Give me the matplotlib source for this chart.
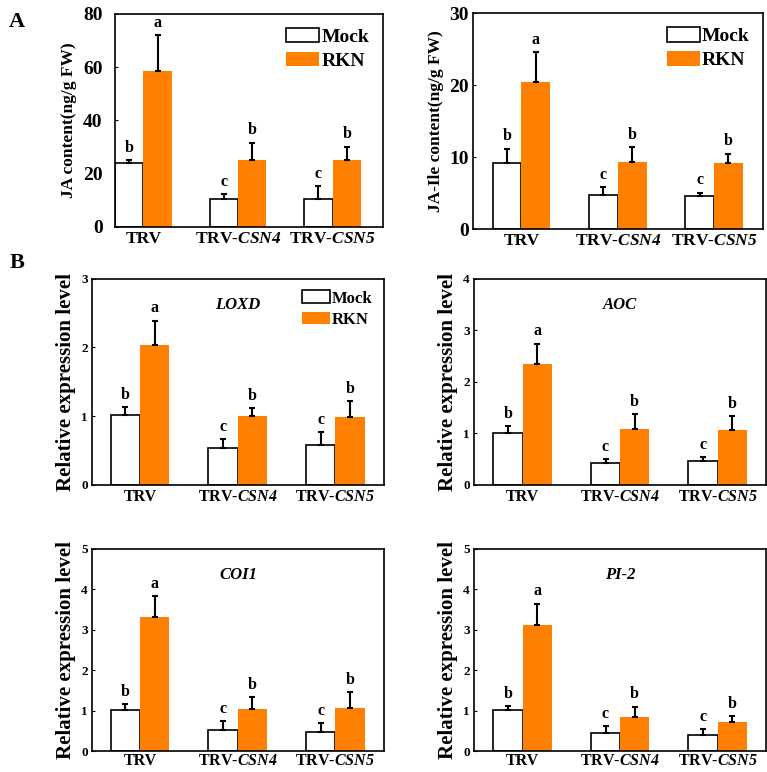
import numpy as np
import matplotlib
matplotlib.use("Agg")
import matplotlib.pyplot as plt

plt.rcParams['font.family'] = 'Liberation Serif'
plt.rcParams['font.weight'] = 'bold'
plt.rcParams['mathtext.fontset'] = 'custom'
plt.rcParams['mathtext.rm'] = 'Liberation Serif:bold'
plt.rcParams['mathtext.bf'] = 'Liberation Serif:bold'
plt.rcParams['mathtext.it'] = 'Liberation Serif:italic:bold'
plt.rcParams['mathtext.bfit'] = 'Liberation Serif:italic:bold'

groups = ["TRV", r"TRV-$\mathbfit{CSN4}$", r"TRV-$\mathbfit{CSN5}$"]
series = ["Mock", "RKN"]

# panel A
ja_mock = [23.9, 10.5, 10.5]
ja_mock_err = [1.3, 1.8, 4.9]
ja_rkn = [58.6, 25.2, 25.0]
ja_rkn_err = [13.5, 6.5, 5.2]
ja_letters = [["b", "c", "c"], ["a", "b", "b"]]

jaile_mock = [9.2, 4.8, 4.6]
jaile_mock_err = [2.0, 1.0, 0.5]
jaile_rkn = [20.4, 9.4, 9.2]
jaile_rkn_err = [4.2, 2.0, 1.3]
jaile_letters = [["b", "c", "c"], ["a", "b", "b"]]

# panel B
loxd_mock = [1.01, 0.54, 0.58]
loxd_mock_err = [0.12, 0.12, 0.19]
loxd_rkn = [2.04, 1.00, 0.98]
loxd_rkn_err = [0.35, 0.12, 0.24]

aoc_mock = [1.01, 0.43, 0.47]
aoc_mock_err = [0.13, 0.07, 0.07]
aoc_rkn = [2.35, 1.09, 1.07]
aoc_rkn_err = [0.39, 0.28, 0.27]

coi1_mock = [1.02, 0.52, 0.48]
coi1_mock_err = [0.14, 0.22, 0.21]
coi1_rkn = [3.32, 1.03, 1.06]
coi1_rkn_err = [0.51, 0.30, 0.39]

pi2_mock = [1.01, 0.46, 0.40]
pi2_mock_err = [0.11, 0.15, 0.15]
pi2_rkn = [3.13, 0.85, 0.71]
pi2_rkn_err = [0.52, 0.25, 0.16]

gene_letters = [["b", "c", "c"], ["a", "b", "b"]]

orange = "#FF8000"
w = 0.3


def draw(ax, mock, mock_err, rkn, rkn_err, letters, ymax, ystep, ylabel,
         ylabel_fs, tick_fs, cat_fs, xlim, legend=False, leg_fs=12, gene=None,
         ytick_pad=3, xtick_pad=3):
    x = np.arange(len(groups))
    ax.bar(x - w / 2, mock, w, color="white", edgecolor="black", lw=1.2,
           label=series[0], zorder=2)
    ax.bar(x + w / 2, rkn, w, color=orange, edgecolor=orange, lw=0,
           label=series[1], zorder=2)
    for xs, v, e in [(x - w / 2, mock, mock_err), (x + w / 2, rkn, rkn_err)]:
        ax.errorbar(xs, v, yerr=[np.zeros(len(v)), e], fmt="none",
                    ecolor="black", elinewidth=1.5, capsize=2.3, capthick=1.5,
                    zorder=3)
    for k, (xs, v, e) in enumerate([(x - w / 2, mock, mock_err),
                                    (x + w / 2, rkn, rkn_err)]):
        for i in range(len(v)):
            ax.annotate(letters[k][i], (xs[i], v[i] + e[i]), xytext=(0, 3),
                        textcoords="offset points", ha="center", va="bottom",
                        fontsize=11.5, fontweight="bold")
    ax.set_ylim(0, ymax)
    ax.set_yticks(np.arange(0, ymax + ystep / 2, ystep))
    ax.set_xlim(*xlim)
    ax.set_xticks(x)
    ax.set_xticklabels(groups, fontsize=cat_fs, fontweight="bold")
    ax.tick_params(axis="x", length=0, pad=xtick_pad)
    ax.tick_params(axis="y", direction="in", length=2, labelsize=tick_fs,
                   pad=ytick_pad)
    for lab in ax.get_yticklabels():
        lab.set_fontweight("bold")
    for s in ax.spines.values():
        s.set_linewidth(1.2)
    ax.set_ylabel(ylabel, fontsize=ylabel_fs, fontweight="bold", labelpad=4)
    if legend:
        ax.legend(loc="upper right", frameon=False, fontsize=leg_fs,
                  handlelength=1.7, handleheight=0.8, handletextpad=0.1,
                  labelspacing=0.3, borderaxespad=0.3)
    if gene:
        ax.text(0.5, 0.87, gene, transform=ax.transAxes, ha="center",
                va="center", fontsize=12, fontweight="bold", style="italic")


fig = plt.figure(figsize=(7.67, 7.72), dpi=100)

ax1 = fig.add_axes([0.150, 0.706, 0.349, 0.276])
draw(ax1, ja_mock, ja_mock_err, ja_rkn, ja_rkn_err, ja_letters, 80, 20,
     "JA content(ng/g FW)", 12.5, 14, 12.5, (-0.3, 2.53), legend=True,
     leg_fs=14, ytick_pad=9)

ax2 = fig.add_axes([0.617, 0.703, 0.378, 0.280])
draw(ax2, jaile_mock, jaile_mock_err, jaile_rkn, jaile_rkn_err, jaile_letters,
     30, 10, "JA-Ile content(ng/g FW)", 12.5, 14, 12.5, (-0.5, 2.51),
     legend=True, leg_fs=14, ytick_pad=3)

ax3 = fig.add_axes([0.120, 0.372, 0.381, 0.267])
draw(ax3, loxd_mock, loxd_mock_err, loxd_rkn, loxd_rkn_err, gene_letters,
     3, 1, "Relative expression level", 15, 9.5, 11.5, (-0.49, 2.5),
     legend=True, leg_fs=12, gene="LOXD")

ax4 = fig.add_axes([0.618, 0.372, 0.381, 0.267])
draw(ax4, aoc_mock, aoc_mock_err, aoc_rkn, aoc_rkn_err, gene_letters,
     4, 1, "Relative expression level", 15, 9.5, 11.5, (-0.5, 2.5), gene="AOC")

ax5 = fig.add_axes([0.120, 0.027, 0.381, 0.262])
draw(ax5, coi1_mock, coi1_mock_err, coi1_rkn, coi1_rkn_err, gene_letters,
     5, 1, "Relative expression level", 15, 9.5, 11.5, (-0.49, 2.5),
     gene="COI1", xtick_pad=1.5)

ax6 = fig.add_axes([0.618, 0.027, 0.381, 0.262])
draw(ax6, pi2_mock, pi2_mock_err, pi2_rkn, pi2_rkn_err, gene_letters,
     5, 1, "Relative expression level", 15, 9.5, 11.5, (-0.5, 2.5),
     gene="PI-2", xtick_pad=1.5)

fig.text(0.012, 0.985, "A", fontsize=16, fontweight="bold", va="top")
fig.text(0.012, 0.672, "B", fontsize=16, fontweight="bold", va="top")

fig.savefig("out.png", dpi=100)
